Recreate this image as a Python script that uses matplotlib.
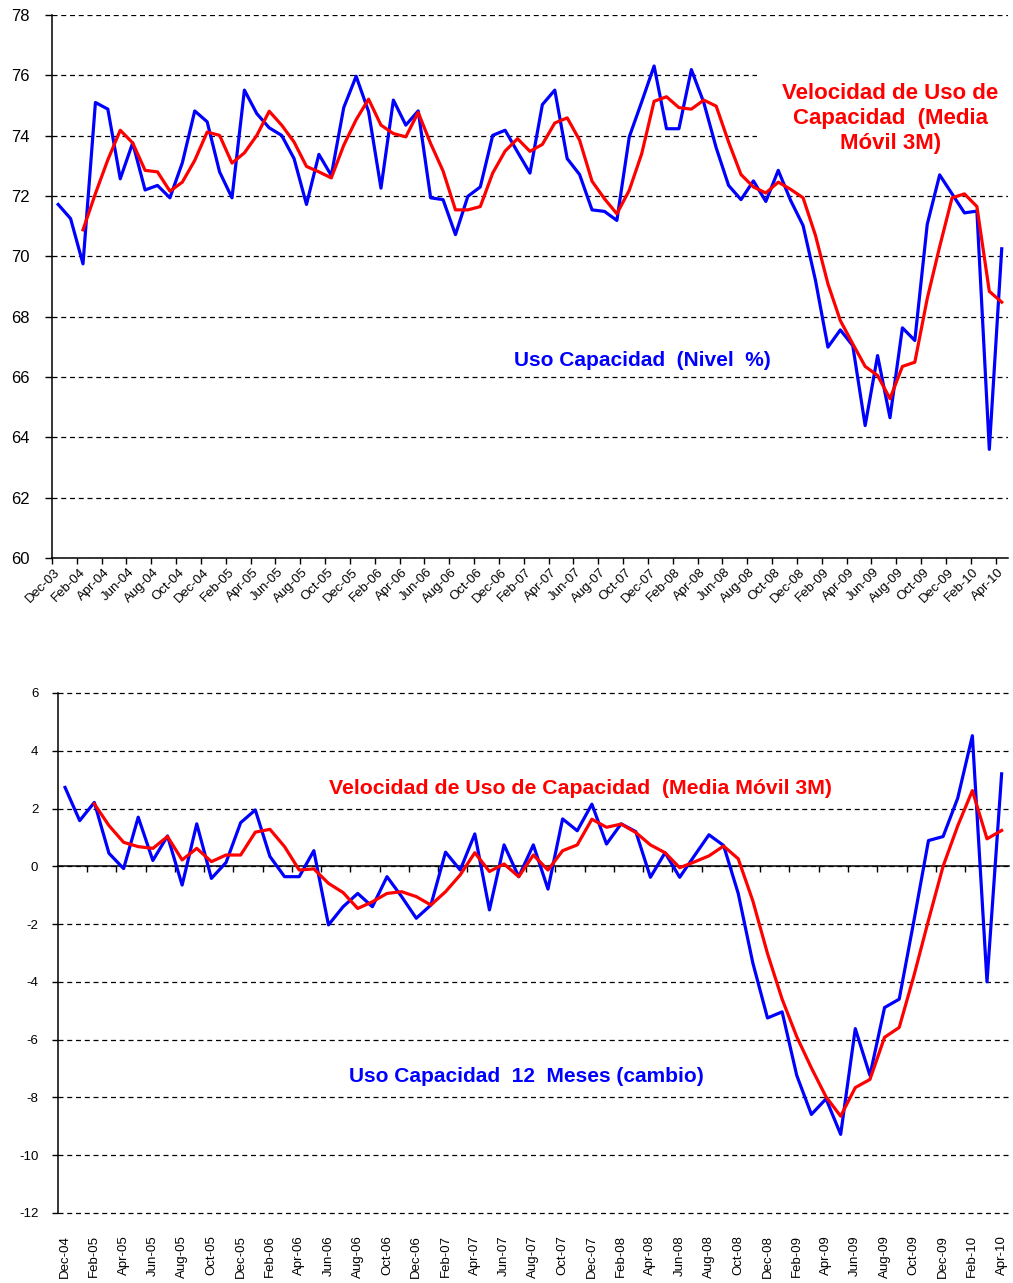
import numpy as np
import matplotlib
matplotlib.use("Agg")
import matplotlib.pyplot as plt

plt.rcParams['font.family'] = ['Liberation Sans', 'DejaVu Sans']
plt.rcParams['axes.unicode_minus'] = False

# ---- top chart: capacity use level (%) ----
top_labels = ["Dec-03", "Feb-04", "Apr-04", "Jun-04", "Aug-04", "Oct-04", "Dec-04", "Feb-05",
              "Apr-05", "Jun-05", "Aug-05", "Oct-05", "Dec-05", "Feb-06", "Apr-06", "Jun-06",
              "Aug-06", "Oct-06", "Dec-06", "Feb-07", "Apr-07", "Jun-07", "Aug-07", "Oct-07",
              "Dec-07", "Feb-08", "Apr-08", "Jun-08", "Aug-08", "Oct-08", "Dec-08", "Feb-09",
              "Apr-09", "Jun-09", "Aug-09", "Oct-09", "Dec-09", "Feb-10", "Apr-10"]
level = [71.72, 71.25, 69.75, 75.10, 74.88, 72.57, 73.76, 72.20, 72.35, 71.94,
         73.10, 74.82, 74.46, 72.80, 71.94, 75.51, 74.73, 74.26, 74.01, 73.24,
         71.72, 73.38, 72.68, 74.93, 75.97, 74.80, 72.26, 75.18, 74.35, 74.82,
         71.94, 71.88, 70.72, 71.99, 72.30, 74.01, 74.18, 73.46, 72.76, 75.03,
         75.51, 73.24, 72.71, 71.54, 71.49, 71.19, 73.96, 75.12, 76.31, 74.23,
         74.23, 76.19, 75.10, 73.60, 72.35, 71.88, 72.50, 71.82, 72.85, 71.85,
         71.02, 69.20, 66.99, 67.56, 67.04, 64.39, 66.71, 64.65, 67.63, 67.21,
         71.06, 72.70, 72.07, 71.44, 71.50, 63.60, 70.25]
# 3-month moving average, starts at the third month (Feb-04)
level_ma = [70.88, 72.08, 73.20, 74.18, 73.76, 72.85, 72.80, 72.16, 72.46, 73.18,
            74.12, 74.01, 73.09, 73.43, 74.01, 74.81, 74.35, 73.79, 72.98, 72.80,
            72.60, 73.68, 74.53, 75.21, 74.35, 74.07, 73.96, 74.77, 73.74, 72.83,
            71.54, 71.54, 71.65, 72.76, 73.49, 73.90, 73.48, 73.71, 74.42, 74.59,
            73.85, 72.49, 71.91, 71.41, 72.19, 73.40, 75.14, 75.29, 74.93, 74.88,
            75.18, 74.98, 73.79, 72.71, 72.30, 72.10, 72.46, 72.22, 71.94, 70.69,
            69.09, 67.87, 67.10, 66.35, 66.05, 65.28, 66.35, 66.49, 68.60, 70.32,
            71.94, 72.07, 71.65, 68.84, 68.48]

# ---- bottom chart: 12-month change ----
bot_labels = ["Dec-04", "Feb-05", "Apr-05", "Jun-05", "Aug-05", "Oct-05", "Dec-05", "Feb-06",
              "Apr-06", "Jun-06", "Aug-06", "Oct-06", "Dec-06", "Feb-07", "Apr-07", "Jun-07",
              "Aug-07", "Oct-07", "Dec-07", "Feb-08", "Apr-08", "Jun-08", "Aug-08", "Oct-08",
              "Dec-08", "Feb-09", "Apr-09", "Jun-09", "Aug-09", "Oct-09", "Dec-09", "Feb-10",
              "Apr-10"]
change = [2.73, 1.58, 2.21, 0.45, -0.08, 1.70, 0.20, 1.05, -0.65, 1.47,
          -0.42, 0.13, 1.51, 1.95, 0.34, -0.36, -0.36, 0.54, -2.03, -1.40,
          -0.94, -1.40, -0.36, -1.05, -1.80, -1.34, 0.49, -0.13, 1.12, -1.51,
          0.74, -0.36, 0.74, -0.79, 1.64, 1.23, 2.15, 0.77, 1.47, 1.20,
          -0.38, 0.47, -0.38, 0.36, 1.09, 0.72, -0.94, -3.35, -5.25, -5.04,
          -7.24, -8.59, -8.05, -9.28, -5.62, -7.24, -4.89, -4.60, -1.90, 0.89,
          1.03, 2.36, 4.52, -4.00, 3.20]
change_ma = [2.16, 1.41, 0.83, 0.68, 0.62, 1.03, 0.22, 0.62, 0.16, 0.39,
             0.39, 1.18, 1.28, 0.68, -0.13, -0.09, -0.59, -0.91, -1.46, -1.23,
             -0.94, -0.88, -1.05, -1.34, -0.88, -0.30, 0.47, -0.18, 0.08, -0.36,
             0.39, -0.13, 0.54, 0.74, 1.63, 1.35, 1.46, 1.17, 0.74, 0.47,
             -0.05, 0.15, 0.36, 0.70, 0.26, -1.20, -3.02, -4.60, -5.90, -6.98,
             -7.98, -8.65, -7.66, -7.38, -5.92, -5.58, -3.80, -1.87, 0.00, 1.40,
             2.62, 0.95, 1.24]

BLUE = '#0000FF'
RED = '#FF0000'
grid_style = dict(color='black', linestyle=(0, (4, 3)), linewidth=0.9)

fig = plt.figure(figsize=(10.13, 12.83), dpi=100)

# ================= top =================
ax1 = fig.add_axes([0.0513, 0.5651, 0.9437, 0.4232])
x1 = np.arange(len(level))
ax1.plot(x1, level, color=BLUE, lw=2.3, zorder=3)
ax1.plot(x1[2:], level_ma, color=RED, lw=2.3, zorder=4)
ax1.set_xlim(-0.5, len(level) - 0.5)
ax1.set_ylim(60, 78)
ax1.set_yticks(range(60, 79, 2))
ax1.yaxis.grid(True, **grid_style)
ax1.set_axisbelow(True)
for s in ['top', 'right']:
    ax1.spines[s].set_visible(False)
for s in ['left', 'bottom']:
    ax1.spines[s].set_linewidth(1.1)
ax1.tick_params(axis='y', length=5, width=1, pad=11, labelsize=12)
ax1.set_xticks(x1[::2])
ax1.set_xticklabels(top_labels, rotation=45, ha='right', va='center',
                    rotation_mode='anchor', fontsize=9.5)
ax1.set_xticks(np.arange(-0.5, len(level), 2), minor=True)
ax1.tick_params(axis='x', which='major', length=0, pad=9)
ax1.tick_params(axis='x', which='minor', length=4, width=1)

ax1.text(0.877, 0.8085, "Velocidad de Uso de\nCapacidad  (Media\nMóvil 3M)",
         transform=ax1.transAxes, ha='center', va='center', color=RED,
         fontsize=16, fontweight='bold', linespacing=1.25, zorder=2.5,
         bbox=dict(facecolor='white', edgecolor='none', pad=18))
ax1.text(0.618, 0.3646, "Uso Capacidad  (Nivel  %)", transform=ax1.transAxes,
         ha='center', va='center', color=BLUE, fontsize=15, fontweight='bold')

# ================= bottom =================
ax2 = fig.add_axes([0.057, 0.0546, 0.939, 0.4053])
x2 = np.arange(len(change))
ax2.plot(x2, change, color=BLUE, lw=2.3, zorder=3)
ax2.plot(x2[2:], change_ma, color=RED, lw=2.3, zorder=4)
ax2.set_xlim(-0.5, len(change) - 0.5)
ax2.set_ylim(-12, 6)
ax2.set_yticks(range(-12, 7, 2))
ax2.yaxis.grid(True, **grid_style)
ax2.set_axisbelow(True)
for gl in ax2.get_ygridlines():
    gl.set_clip_on(False)
for s in ['top', 'right']:
    ax2.spines[s].set_visible(False)
ax2.spines['left'].set_linewidth(1.1)
ax2.spines['bottom'].set_position(('data', 0))
ax2.spines['bottom'].set_linewidth(1.1)
ax2.tick_params(axis='y', length=4, width=1, pad=10, labelsize=9.5)
ax2.set_xticks([])
ax2.set_xticks(np.arange(1.5, len(change), 2), minor=True)
ax2.tick_params(axis='x', which='minor', length=4, width=1)

sec = ax2.secondary_xaxis(0.0)
sec.set_xticks(x2[::2])
sec.set_xticklabels(bot_labels, rotation=90, fontsize=9.5)
sec.tick_params(axis='x', length=0, pad=16)
sec.spines['bottom'].set_visible(False)

ax2.text(0.549, 0.817, "Velocidad de Uso de Capacidad  (Media Móvil 3M)",
         transform=ax2.transAxes, ha='center', va='center', color=RED,
         fontsize=15.3, fontweight='bold')
ax2.text(0.4927, 0.2615, "Uso Capacidad  12  Meses (cambio)",
         transform=ax2.transAxes, ha='center', va='center', color=BLUE,
         fontsize=15, fontweight='bold')

fig.savefig("out.png", dpi=100)
